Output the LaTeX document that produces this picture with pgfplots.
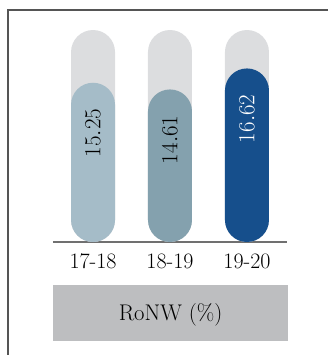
\documentclass[border=0pt]{standalone}
\usepackage{pgfplots}
\pgfplotsset{compat=1.18}
\definecolor{bgbar}{HTML}{DCDDDF}
\definecolor{barA}{HTML}{A5BCC8}
\definecolor{barB}{HTML}{84A1AE}
\definecolor{barC}{HTML}{164F8C}
\definecolor{boxgray}{HTML}{BDBEC0}
\definecolor{framegray}{HTML}{555555}
\definecolor{axgray}{HTML}{707070}
\begin{document}
\begin{tikzpicture}
\useasboundingbox (0,0) rectangle (246pt,266.25pt);
% frame (open at right and bottom, as in the reference)
\draw[framegray, line width=1pt] (6pt,0) -- (6pt,258.75pt) -- (246pt,258.75pt);
\begin{axis}[
  at={(39.75pt,84.75pt)}, anchor=south west,
  scale only axis, width=175.5pt, height=159pt,
  xmin=-0.52, xmax=2.52, ymin=0, ymax=20.3,
  clip=false,
  axis x line=bottom, axis y line=none,
  axis line style={axgray, line width=1pt, -},
  xtick={0,1,2}, xticklabels={17-18,18-19,19-20},
  major tick length=0pt,
  xticklabel style={font=\fontsize{16.5}{19}\selectfont, yshift=-5.5pt},
  ytick=\empty,
]
\addplot[ybar, bar width=33pt, bar shift=0pt, fill=bgbar, draw=none, rounded corners=16.5pt]
  coordinates {(0,20.3) (1,20.3) (2,20.3)};
\addplot[ybar, bar width=33pt, bar shift=0pt, fill=barA, draw=none, rounded corners=16.5pt,
  nodes near coords, nodes near coords style={rotate=90, anchor=east, xshift=-16pt, font=\fontsize{16.5}{18}\selectfont, text=black, rounded corners=0pt}]
  coordinates {(0,15.25)};
\addplot[ybar, bar width=33pt, bar shift=0pt, fill=barB, draw=none, rounded corners=16.5pt,
  nodes near coords, nodes near coords style={rotate=90, anchor=east, xshift=-16pt, font=\fontsize{16.5}{18}\selectfont, text=black, rounded corners=0pt}]
  coordinates {(1,14.61)};
\addplot[ybar, bar width=33pt, bar shift=0pt, fill=barC, draw=none, rounded corners=16.5pt,
  nodes near coords, nodes near coords style={rotate=90, anchor=east, xshift=-16pt, font=\fontsize{16.5}{18}\selectfont, text=white, rounded corners=0pt}]
  coordinates {(2,16.62)};
\end{axis}
% caption box
\fill[boxgray] (39.75pt,10.5pt) rectangle (216pt,52.5pt);
\node[font=\fontsize{17}{20}\selectfont] at (127.9pt,30pt) {RoNW (\%)};
\end{tikzpicture}
\end{document}
